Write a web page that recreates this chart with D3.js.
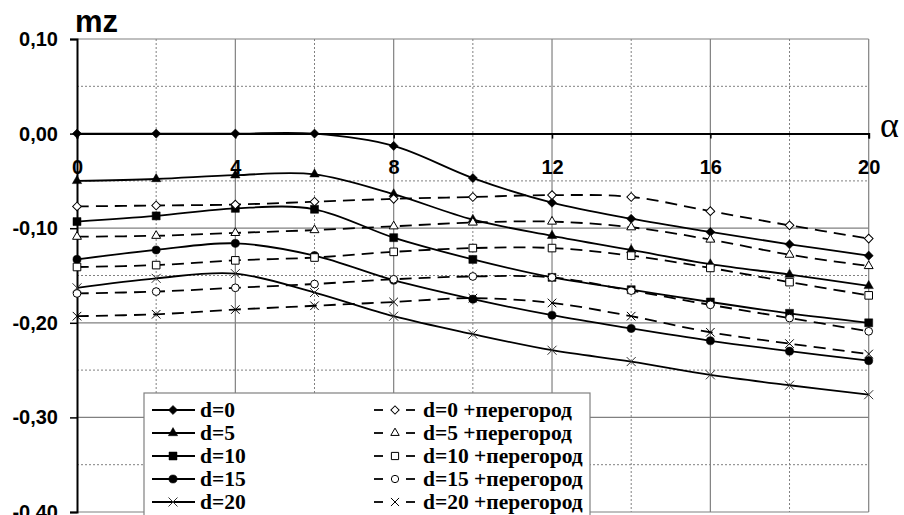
<!DOCTYPE html>
<html>
<head>
<meta charset="utf-8">
<script src="https://cdn.jsdelivr.net/npm/d3@7"></script>
<style>
  body { margin: 0; background: #fff; }
  svg { display: block; }
</style>
</head>
<body>
<svg id="chart" width="904" height="515"></svg>
<script>
// angle of attack, degrees
var alpha = [0, 2, 4, 6, 8, 10, 12, 14, 16, 18, 20];

// mz, plain
var d0  = [0, 0, 0, 0, -0.013, -0.047, -0.073, -0.090, -0.104, -0.117, -0.129];
var d5  = [-0.050, -0.048, -0.044, -0.043, -0.064, -0.091, -0.108, -0.123, -0.138, -0.149, -0.161];
var d10 = [-0.093, -0.087, -0.079, -0.080, -0.110, -0.133, -0.152, -0.165, -0.178, -0.190, -0.200];
var d15 = [-0.133, -0.123, -0.116, -0.129, -0.155, -0.175, -0.192, -0.206, -0.219, -0.230, -0.240];
var d20 = [-0.163, -0.153, -0.148, -0.168, -0.193, -0.212, -0.229, -0.241, -0.255, -0.266, -0.276];

// mz, with partition
var d0p  = [-0.077, -0.076, -0.075, -0.072, -0.069, -0.067, -0.065, -0.067, -0.082, -0.097, -0.111];
var d5p  = [-0.109, -0.108, -0.105, -0.102, -0.098, -0.094, -0.093, -0.099, -0.112, -0.128, -0.140];
var d10p = [-0.141, -0.139, -0.134, -0.131, -0.125, -0.121, -0.121, -0.129, -0.142, -0.157, -0.171];
var d15p = [-0.169, -0.167, -0.163, -0.159, -0.154, -0.151, -0.152, -0.166, -0.181, -0.195, -0.209];
var d20p = [-0.193, -0.191, -0.186, -0.182, -0.178, -0.174, -0.179, -0.193, -0.210, -0.222, -0.233];

var labels  = ["d=0", "d=5", "d=10", "d=15", "d=20"];
var labelsP = ["d=0 +перегород", "d=5 +перегород", "d=10 +перегород", "d=15 +перегород", "d=20 +перегород"];
var markers = ["diamond", "triangle", "square", "circle", "cross"];

var xMajor = [0, 4, 8, 12, 16, 20];
var xMinor = [2, 6, 10, 14, 18];
var yMajor = [0.1, 0, -0.1, -0.2, -0.3, -0.4];
var yMinor = [0.05, -0.05, -0.15, -0.25, -0.35];

var sansFont = "'Liberation Sans', Arial, sans-serif";
var serifFont = "'Liberation Serif', 'Times New Roman', serif";

var plotL = 77, plotR = 868.7, plotT = 39, plotB = 512;

var x = d3.scaleLinear().domain([0, 20]).range([plotL, plotR]);
var y = d3.scaleLinear().domain([-0.4, 0.1]).range([plotB, plotT]);

var svg = d3.select("#chart");

function fmt(v) {
    var s = Math.abs(v).toFixed(2).replace(".", ",");
    return (v < -1e-9 ? "-" : "") + s;
}

// grid
var grid = svg.append("g");
grid.selectAll(".vmin").data(xMinor).enter().append("line")
    .attr("x1", d => x(d)).attr("x2", d => x(d))
    .attr("y1", plotT).attr("y2", plotB)
    .attr("stroke", "#808080").attr("stroke-width", 1).attr("stroke-dasharray", "2,2");
grid.selectAll(".hmin").data(yMinor).enter().append("line")
    .attr("x1", plotL).attr("x2", plotR)
    .attr("y1", d => y(d)).attr("y2", d => y(d))
    .attr("stroke", "#808080").attr("stroke-width", 1).attr("stroke-dasharray", "2,2");
grid.selectAll(".vmaj").data(xMajor.slice(1)).enter().append("line")
    .attr("x1", d => x(d)).attr("x2", d => x(d))
    .attr("y1", plotT).attr("y2", plotB)
    .attr("stroke", "#808080").attr("stroke-width", 1.2);
grid.selectAll(".hmaj").data(yMajor.filter(d => d !== 0)).enter().append("line")
    .attr("x1", plotL).attr("x2", plotR)
    .attr("y1", d => y(d)).attr("y2", d => y(d))
    .attr("stroke", "#808080").attr("stroke-width", 1.2);

// axes
var yAxis = d3.axisLeft(y).tickValues(yMajor).tickSize(7).tickPadding(12).tickFormat(fmt);
var gy = svg.append("g").attr("transform", "translate(" + plotL + ",0)").call(yAxis);
gy.select(".domain").attr("stroke", "#000").attr("stroke-width", 2);
gy.selectAll(".tick line").attr("stroke", "#000").attr("stroke-width", 1.5);
gy.selectAll("text").attr("font-family", sansFont).attr("font-weight", "bold")
    .attr("font-size", 20).attr("fill", "#000");

var xAxis = d3.axisBottom(x).tickValues(xMajor).tickSize(5).tickPadding(21).tickFormat(d3.format("d"));
var gx = svg.append("g").attr("transform", "translate(0," + y(0) + ")").call(xAxis);
gx.select(".domain").attr("stroke", "#000").attr("stroke-width", 2);
gx.selectAll(".tick line").attr("stroke", "#000").attr("stroke-width", 1.5);
gx.selectAll("text").attr("font-family", sansFont).attr("font-weight", "bold")
    .attr("font-size", 20).attr("fill", "#000");

svg.append("text").attr("x", 75).attr("y", 32)
    .attr("font-family", sansFont).attr("font-weight", "bold").attr("font-size", 31)
    .text("mz");
svg.append("text").attr("x", 880).attr("y", 137)
    .style("font-family", serifFont).attr("font-size", 36)
    .text("α");

// markers
var symbolSize = { diamond: 42, triangle: 38, square: 64, circle: 52 };
function markerPath(type, scale) {
    scale = scale || 1;
    if (type === "cross") {
        var r = 4.5 * scale;
        return "M" + (-r) + "," + (-r) + "L" + r + "," + r + "M" + (-r) + "," + r + "L" + r + "," + (-r);
    }
    var t = { diamond: d3.symbolSquare, triangle: d3.symbolTriangle, square: d3.symbolSquare, circle: d3.symbolCircle }[type];
    return d3.symbol().type(t).size(symbolSize[type] * scale * scale)();
}
function drawMarker(g, type, cx, cy, open, scale) {
    var p = g.append("path")
        .attr("d", markerPath(type, scale))
        .attr("transform", "translate(" + cx + "," + cy + ")" + (type === "diamond" ? " rotate(45)" : ""));
    if (type === "cross") {
        p.attr("fill", "none").attr("stroke", open ? "#000" : "#333").attr("stroke-width", 1);
    } else if (open) {
        p.attr("fill", "#fff").attr("stroke", "#000").attr("stroke-width", 1);
    } else {
        p.attr("fill", "#000").attr("stroke", "#000").attr("stroke-width", 0.5);
    }
}

var line = d3.line()
    .x((d, i) => x(alpha[i]))
    .y(d => y(d))
    .curve(d3.curveCardinal.tension(0));

var solid = [d0, d5, d10, d15, d20];
var dashed = [d0p, d5p, d10p, d15p, d20p];

var plot = svg.append("g");
solid.forEach(function (vals) {
    plot.append("path").attr("d", line(vals))
        .attr("fill", "none").attr("stroke", "#000").attr("stroke-width", 1.8);
});
dashed.forEach(function (vals) {
    plot.append("path").attr("d", line(vals))
        .attr("fill", "none").attr("stroke", "#000").attr("stroke-width", 1.8)
        .attr("stroke-dasharray", "12,7");
});
solid.forEach(function (vals, k) {
    vals.forEach(function (v, i) { drawMarker(plot, markers[k], x(alpha[i]), y(v), false, 1); });
});
dashed.forEach(function (vals, k) {
    vals.forEach(function (v, i) { drawMarker(plot, markers[k], x(alpha[i]), y(v), true, 0.95); });
});

// legend
var legend = svg.append("g");
legend.append("rect").attr("x", 144).attr("y", 393).attr("width", 446).attr("height", 140)
    .attr("fill", "#fff").attr("stroke", "#808080").attr("stroke-width", 1.2);

labels.forEach(function (lab, k) {
    var cy = 410 + k * 23;
    legend.append("line").attr("x1", 152).attr("x2", 195).attr("y1", cy).attr("y2", cy)
        .attr("stroke", "#000").attr("stroke-width", 1.8);
    drawMarker(legend, markers[k], 173, cy, false, 1);
    legend.append("text").attr("x", 200).attr("y", cy + 7)
        .style("font-family", serifFont).attr("font-weight", "bold").attr("font-size", 21.5)
        .text(lab);
});
labelsP.forEach(function (lab, k) {
    var cy = 410 + k * 23;
    legend.append("line").attr("x1", 374).attr("x2", 383).attr("y1", cy).attr("y2", cy)
        .attr("stroke", "#000").attr("stroke-width", 1.8);
    legend.append("line").attr("x1", 406).attr("x2", 415).attr("y1", cy).attr("y2", cy)
        .attr("stroke", "#000").attr("stroke-width", 1.8);
    drawMarker(legend, markers[k], 395, cy, true, 0.9);
    legend.append("text").attr("x", 423).attr("y", cy + 7)
        .style("font-family", serifFont).attr("font-weight", "bold").attr("font-size", 21.5)
        .text(lab);
});
</script>
</body>
</html>
